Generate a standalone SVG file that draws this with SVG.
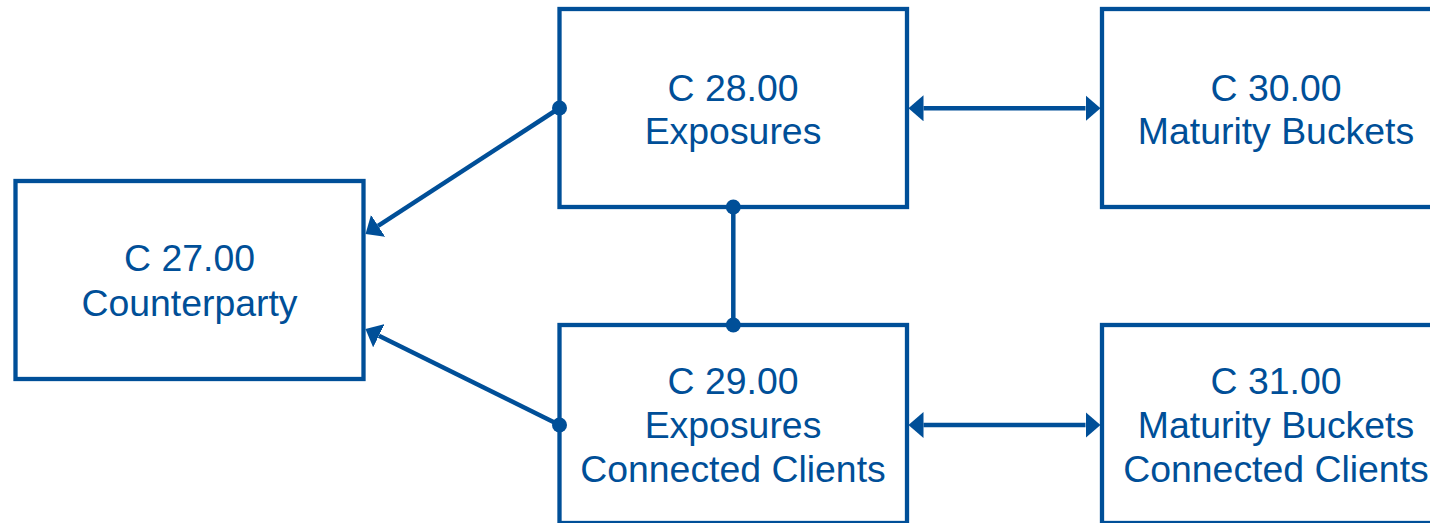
<svg xmlns="http://www.w3.org/2000/svg" width="1430" height="523" viewBox="0 0 1430 523">
<style>
.box{fill:#ffffff;stroke:#004F98;stroke-width:4.3}
.lbl{font-family:"Liberation Sans",Arial,sans-serif;font-size:37.4px;fill:#004F98;text-anchor:middle}
.conn{stroke:#004F98;stroke-width:4.5;fill:none}
.dot{fill:#004F98}
</style>
<defs>
<marker id="arr" viewBox="0 0 15 26" refX="0" refY="13" markerWidth="15" markerHeight="26" markerUnits="userSpaceOnUse" orient="auto-start-reverse">
<path d="M0,0 L15,13 L0,26 z" fill="#004F98"/>
</marker>
</defs>
<rect width="1430" height="523" fill="#ffffff"/>
<g id="c27">
<rect class="box" x="15.5" y="181" width="348" height="198"/>
<text class="lbl" x="189.5" y="271">C 27.00</text>
<text class="lbl" x="189.5" y="315.5">Counterparty</text>
</g>
<g id="c28">
<rect class="box" x="559.5" y="9" width="347.5" height="198"/>
<text class="lbl" x="733" y="100.5">C 28.00</text>
<text class="lbl" x="733" y="144">Exposures</text>
</g>
<g id="c30">
<rect class="box" x="1102" y="9" width="348" height="198"/>
<text class="lbl" x="1276" y="100.5">C 30.00</text>
<text class="lbl" x="1276" y="144">Maturity Buckets</text>
</g>
<g id="c29">
<rect class="box" x="559.5" y="325" width="347.5" height="198"/>
<text class="lbl" x="733" y="394">C 29.00</text>
<text class="lbl" x="733" y="438">Exposures</text>
<text class="lbl" x="733" y="482">Connected Clients</text>
</g>
<g id="c31">
<rect class="box" x="1102" y="325" width="348" height="198"/>
<text class="lbl" x="1276" y="394">C 31.00</text>
<text class="lbl" x="1276" y="438">Maturity Buckets</text>
<text class="lbl" x="1276" y="482">Connected Clients</text>
</g>
<g id="connectors">
<line class="conn" x1="559.5" y1="108" x2="378.1" y2="225.8" marker-end="url(#arr)"/>
<line class="conn" x1="559.5" y1="425" x2="378.9" y2="335.7" marker-end="url(#arr)"/>
<line class="conn" x1="733.3" y1="207" x2="733.3" y2="325"/>
<line class="conn" x1="923.5" y1="108.3" x2="1085.5" y2="108.3" marker-start="url(#arr)" marker-end="url(#arr)"/>
<line class="conn" x1="923.5" y1="425" x2="1085.5" y2="425" marker-start="url(#arr)" marker-end="url(#arr)"/>
<circle class="dot" cx="559.5" cy="108" r="7.5"/>
<circle class="dot" cx="559.5" cy="425" r="7.5"/>
<circle class="dot" cx="733.3" cy="207" r="7.5"/>
<circle class="dot" cx="733.3" cy="325" r="7.5"/>
</g>
</svg>
